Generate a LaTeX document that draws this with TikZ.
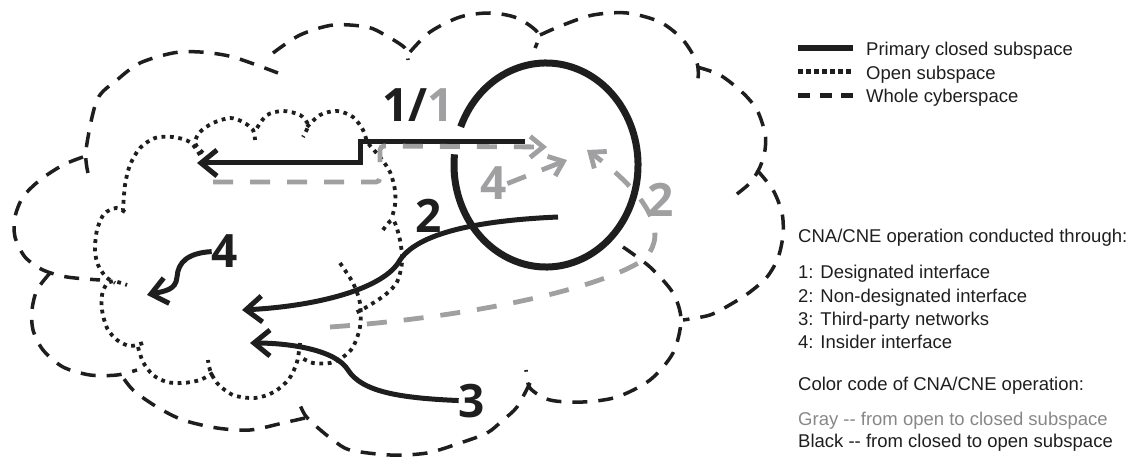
\documentclass[tikz,border=0pt]{standalone}
\usepackage{fontspec}
\setmainfont{Liberation Sans}
\newfontfamily\numfont{Open Sans}
\usepackage{xcolor}
\usetikzlibrary{arrows.meta}
\definecolor{inkblack}{RGB}{30,30,30}
\definecolor{opgray}{RGB}{160,160,162}
\definecolor{txtgray}{RGB}{135,135,135}

\begin{document}
\begin{tikzpicture}[x=1pt, y=-1pt,
    wholespace/.style={draw=inkblack, line width=3.5pt, dash pattern=on 15pt off 11pt},
    openspace/.style={draw=inkblack, line width=3.8pt, dash pattern=on 3.8pt off 4.6pt},
    closedspace/.style={draw=inkblack, line width=7pt},
    arrow/.style={draw=inkblack, line width=5pt, -{Straight Barb[length=16pt,width=26pt]}},
    grayarrow/.style={draw=opgray, line width=4.8pt, dash pattern=on 20pt off 17pt, -{Straight Barb[length=13pt,width=21pt]}},
    num/.style={font=\numfont\bfseries\fontsize{46}{46}\selectfont, inner sep=0pt, anchor=base, text=inkblack},
    legend/.style={font=\fontsize{18.5}{22}\selectfont, inner sep=0pt, anchor=base west, text=inkblack}
]
\useasboundingbox (0,0) rectangle (1138,457);

\draw[wholespace] plot[smooth] coordinates {(88,173) (86,150) (97,100) (117,80) (140,63) (173,53) (200,52) (233,57) (278,73)};
\draw[wholespace] plot[smooth] coordinates {(273,53) (300,35) (333,25) (367,27) (385,35) (405,48) (408,60)};
\draw[wholespace] plot[smooth] coordinates {(410,52) (430,32) (460,17) (490,13) (517,18) (538,33) (535,48)};
\draw[wholespace] plot[smooth] coordinates {(540,35) (563,25) (593,15) (627,13) (660,22) (683,40) (697,63) (698,80)};
\draw[wholespace] plot[smooth] coordinates {(697,67) (720,75) (743,93) (757,110) (765,133) (765,150) (760,167) (750,183) (733,197)};
\draw[wholespace] plot[smooth] coordinates {(757,170) (773,190) (782,213) (783,235) (778,258) (767,277) (750,292) (733,303) (710,315) (683,320)};
\draw[wholespace] plot[smooth] coordinates {(623,247) (650,267) (673,293) (681,320) (673,353) (650,380) (617,397) (583,402) (550,400) (530,388) (526,370)};
\draw[wholespace] plot[smooth] coordinates {(530,383) (517,407) (503,420) (487,433) (460,443) (427,453) (390,455) (350,450) (333,440) (317,427) (305,415) (297,398)};
\draw[wholespace] plot[smooth] coordinates {(305,418) (283,423) (250,430) (217,428) (183,420) (157,407) (133,390) (120,373)};
\draw[wholespace] plot[smooth] coordinates {(50,273) (37,290) (32,310) (33,330) (43,350) (63,367) (90,375) (117,375) (137,370)};
\draw[wholespace] plot[smooth] coordinates {(83,157) (63,165) (40,180) (23,197) (15,217) (15,237) (25,257) (43,270) (67,277) (100,280)};

\draw[openspace] plot[smooth] coordinates {(203,153) (195,143) (200,132) (213,123) (230,118) (243,122) (253,130) (255,140)};
\draw[openspace] plot[smooth] coordinates {(257,128) (267,115) (283,111) (300,115) (308,125) (303,137)};
\draw[openspace] plot[smooth] coordinates {(307,127) (320,115) (337,111) (353,117) (363,130) (368,143) (380,157) (390,172) (395,190) (395,205) (392,217)};
\draw[openspace] plot[smooth] coordinates {(383,230) (393,220) (400,240) (402,262) (397,282) (385,295) (365,308) (355,313)};
\draw[openspace] plot[smooth] coordinates {(340,263) (353,283) (360,303) (360,327) (353,347) (343,357) (330,363) (313,363) (302,358)};
\draw[openspace] plot[smooth] coordinates {(300,343) (297,362) (289,379) (274,392) (255,398) (233,395) (217,383) (210,370) (208,360)};
\draw[openspace] plot[smooth] coordinates {(213,373) (200,380) (183,383) (167,382) (153,375) (143,362) (138,347)};
\draw[openspace] plot[smooth] coordinates {(143,343) (130,346) (117,340) (107,328) (102,310) (102,295) (106,285) (113,281) (127,285)};
\draw[openspace] plot[smooth] coordinates {(125,212) (116,208) (104,214) (97,230) (95,250) (98,265) (106,277) (115,283)};
\draw[openspace] plot[smooth] coordinates {(200,155) (190,142) (173,137) (155,138) (140,148) (130,165) (125,185) (123,210)};

\draw[closedspace] (546,165) ++(202:92 and 102) arc[start angle=202, end angle=546, x radius=92, y radius=102];

\node[num] (one) at (418,122) {1/\textcolor{opgray}{1}};
\node[num] (two) at (429,233) {2};
\node[num] (three) at (472,417) {3};
\node[num] (four) at (225,268) {4};
\node[num, text=opgray] (gtwo) at (661,217) {2};
\node[num, text=opgray] (gfour) at (494,200) {4};

\coordinate (b1s) at (525,142);
\coordinate (b1t) at (197,163);
\coordinate (b2s) at (558,217);
\coordinate (b2t) at (242,310);
\coordinate (b3t) at (250,343);
\coordinate (b4t) at (147,295);
\coordinate (g1s) at (213,182);
\coordinate (g1t) at (547,147);
\coordinate (g2s) at (330,327);
\coordinate (g2t) at (587,150);
\coordinate (g4t) at (567,160);

\draw[arrow] (b1s) -- (360,142) -- (360,163) -- (b1t);
\draw[arrow] (b2s) .. controls (490,220) and (420,230) .. (400,260) .. controls (385,288) and (320,306) .. (b2t);
\draw[arrow] (three.west) .. controls (400,398) and (362,392) .. (348,370) .. controls (336,350) and (290,343) .. (b3t);
\draw[arrow] (four.west) .. controls (188,253) and (178,262) .. (177,277) .. controls (176,290) and (165,291) .. (b4t);

\draw[grayarrow, rounded corners=4pt] (g1s) -- (380,182) -- (380,146) -- (g1t);
\draw[grayarrow] (gfour.east) -- (g4t);
\draw[grayarrow] (g2s) .. controls (460,318) and (590,292) .. (640,262) .. controls (670,240) and (655,200) .. (g2t);

\draw[closedspace, line width=6pt] (798,48) -- ++(55,0);
\draw[openspace, line width=5pt, dash pattern=on 5pt off 3pt] (798,72) -- ++(55,0);
\draw[wholespace, line width=5pt, dash pattern=on 12pt off 9.5pt] (798,96) -- ++(55,0);
\node[legend] (lgclosed) at (866,56) {Primary closed subspace};
\node[legend] (lgopen) at (866,80) {Open subspace};
\node[legend] (lgwhole) at (866,103) {Whole cyberspace};

\node[legend] (cnahead) at (798,243) {CNA/CNE operation conducted through:};
\node[legend] (cnaone) at (798,279) {1: Designated interface};
\node[legend] (cnatwo) at (798,302) {2: Non-designated interface};
\node[legend] (cnathree) at (798,325) {3: Third-party networks};
\node[legend] (cnafour) at (798,348) {4: Insider interface};
\node[legend] (colhead) at (798,390) {Color code of CNA/CNE operation:};
\node[legend, text=txtgray] (graycode) at (798,425) {Gray -{}- from open to closed subspace};
\node[legend] (blackcode) at (798,447) {Black -{}- from closed to open subspace};
\end{tikzpicture}
\end{document}
